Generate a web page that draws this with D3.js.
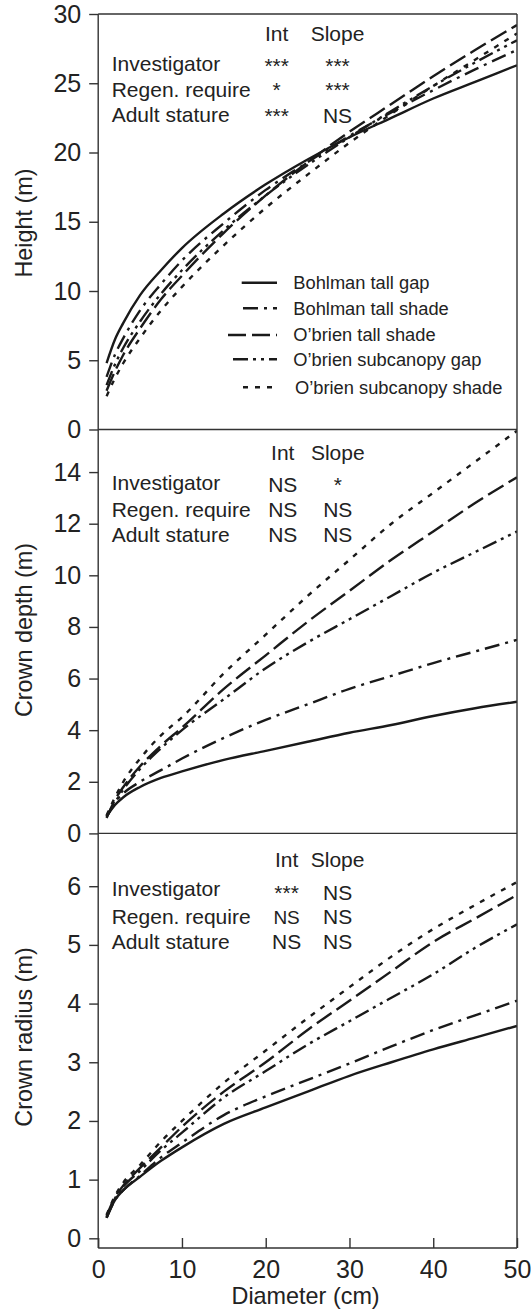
<!DOCTYPE html>
<html>
<head>
<meta charset="utf-8">
<script src="https://cdn.jsdelivr.net/npm/d3@7"></script>
<style>
  body { margin: 0; background: #fff; }
  svg { display: block; }
  text { font-family: "Liberation Sans", Arial, sans-serif; fill: #222; }
</style>
</head>
<body>
<div id="chart"></div>
<script>
// values
var diameters = [1, 2, 3, 5, 7.5, 10, 15, 20, 25, 30, 35, 40, 45, 50];
var groups = ["Bohlman tall gap", "Bohlman tall shade", "O\u2019brien tall shade",
              "O\u2019brien subcanopy gap", "O\u2019brien subcanopy shade"];

var heightSeries = [
  [4.8, 6.5, 7.7, 9.7, 11.5, 13.1, 15.6, 17.7, 19.5, 21.1, 22.5, 23.9, 25.1, 26.3],
  [3.8, 5.4, 6.6, 8.6, 10.5, 12.2, 14.9, 17.3, 19.3, 21.2, 22.9, 24.5, 26.0, 27.4],
  [2.8, 4.2, 5.4, 7.3, 9.4, 11.1, 14.2, 16.9, 19.3, 21.5, 23.5, 25.5, 27.4, 29.2],
  [3.2, 4.7, 5.9, 7.8, 9.8, 11.5, 14.4, 16.9, 19.1, 21.1, 23.0, 24.8, 26.5, 28.1],
  [2.4, 3.7, 4.8, 6.6, 8.6, 10.3, 13.3, 16.0, 18.4, 20.7, 22.8, 24.8, 26.7, 28.6]
];
var depthSeries = [
  [0.65, 1.1, 1.4, 1.8, 2.15, 2.4, 2.85, 3.2, 3.55, 3.9, 4.2, 4.55, 4.85, 5.1],
  [0.65, 1.2, 1.55, 2.0, 2.45, 2.9, 3.7, 4.4, 5.0, 5.6, 6.1, 6.6, 7.05, 7.5],
  [0.6, 1.3, 1.8, 2.6, 3.4, 4.1, 5.6, 6.9, 8.2, 9.4, 10.6, 11.7, 12.8, 13.8],
  [0.65, 1.2, 1.7, 2.5, 3.3, 4.0, 5.2, 6.4, 7.4, 8.3, 9.2, 10.1, 10.9, 11.7],
  [0.7, 1.4, 2.0, 2.9, 3.8, 4.5, 6.2, 7.7, 9.2, 10.6, 12.0, 13.2, 14.4, 15.6]
];
var radiusSeries = [
  [0.35, 0.65, 0.82, 1.05, 1.32, 1.55, 1.95, 2.23, 2.5, 2.77, 3.0, 3.22, 3.42, 3.62],
  [0.35, 0.65, 0.82, 1.07, 1.38, 1.63, 2.1, 2.42, 2.7, 2.98, 3.27, 3.55, 3.8, 4.05],
  [0.38, 0.7, 0.9, 1.2, 1.55, 1.9, 2.5, 3.0, 3.55, 4.05, 4.55, 5.05, 5.45, 5.85],
  [0.35, 0.68, 0.88, 1.15, 1.5, 1.8, 2.4, 2.85, 3.3, 3.7, 4.1, 4.5, 4.95, 5.35],
  [0.4, 0.72, 0.95, 1.25, 1.65, 2.0, 2.65, 3.2, 3.75, 4.28, 4.8, 5.27, 5.68, 6.07]
];

var heightTicks = [0, 5, 10, 15, 20, 25, 30];
var depthTicks = [0, 2, 4, 6, 8, 10, 12, 14];
var radiusTicks = [0, 1, 2, 3, 4, 5, 6];
var diameterTicks = [0, 10, 20, 30, 40, 50];

var statRows = ["Investigator", "Regen. require", "Adult stature"];
var statCols = ["Int", "Slope"];
var heightStats = [["***", "***"], ["*", "***"], ["***", "NS"]];
var depthStats = [["NS", "*"], ["NS", "NS"], ["NS", "NS"]];
var radiusStats = [["***", "NS"], ["NS", "NS"], ["NS", "NS"]];

var width = 531, height = 1310;
var left = 98.2, right = 517;
var dashes = ["none", "15,6,3,6", "18,6", "15,5,3,5,3,5", "5,7"];

var svg = d3.select("#chart").append("svg")
    .attr("width", width)
    .attr("height", height);

var x = d3.scaleLinear().domain([0, 50]).range([left, right]);

var panels = [
  {series: heightSeries, ticks: heightTicks, stats: heightStats, title: "Height (m)",
   domain: [0, 30], range: [429.5, 14], titleY: 223,
   colX: [276.7, 337.5], headY: 40.5, labelY: [71, 97, 122], valY: [73, 97, 123]},
  {series: depthSeries, ticks: depthTicks, stats: depthStats, title: "Crown depth (m)",
   domain: [0, 15.65], range: [833.4, 429.5], titleY: 630,
   colX: [282.8, 337.8], headY: 460, labelY: [490, 517, 542], valY: [492, 517, 542]},
  {series: radiusSeries, ticks: radiusTicks, stats: radiusStats, title: "Crown radius (m)",
   domain: [-0.165, 6.9], range: [1248, 833.4], titleY: 1037,
   colX: [286.6, 337.6], headY: 866.8, labelY: [896, 923.5, 948.5], valY: [900, 923.5, 948.5]}
];

panels.forEach(function(p, pi) {
  var y = d3.scaleLinear().domain(p.domain).range(p.range);
  var g = svg.append("g");

  g.append("clipPath").attr("id", "clip" + pi)
    .append("rect")
    .attr("x", left).attr("y", p.range[1])
    .attr("width", right - left).attr("height", p.range[0] - p.range[1]);

  // y axis
  var ax = g.append("g")
      .attr("transform", "translate(" + left + ",0)")
      .call(d3.axisLeft(y).tickValues(p.ticks).tickFormat(d3.format("d"))
            .tickSize(9).tickPadding(8).tickSizeOuter(0));
  ax.select(".domain").remove();
  ax.selectAll(".tick line").attr("stroke", "#333").attr("stroke-width", 1.4);
  ax.selectAll(".tick text")
    .style("font-size", "25px")
    .attr("fill", "#222");

  g.append("text")
    .attr("transform", "translate(32," + p.titleY + ") rotate(-90)")
    .attr("text-anchor", "middle")
    .style("font-size", "23.4px")
    .text(p.title);

  // curves
  var line = d3.line()
    .x(function(d, i) { return x(diameters[i]); })
    .y(function(d) { return y(d); })
    .curve(d3.curveMonotoneX);

  g.append("g").attr("clip-path", "url(#clip" + pi + ")")
    .selectAll(".curve")
    .data(p.series)
    .enter().append("path")
    .attr("class", "curve")
    .attr("d", line)
    .attr("fill", "none")
    .attr("stroke", "#1a1a1a")
    .attr("stroke-width", 2.4)
    .attr("stroke-dasharray", function(d, i) { return dashes[i]; });

  // significance table
  g.selectAll(".colhead")
    .data(statCols)
    .enter().append("text")
    .attr("x", function(d, i) { return p.colX[i]; })
    .attr("y", p.headY)
    .attr("text-anchor", "middle")
    .style("font-size", "21px")
    .text(function(d) { return d; });

  g.selectAll(".rowlab")
    .data(statRows)
    .enter().append("text")
    .attr("x", 111.7)
    .attr("y", function(d, i) { return p.labelY[i]; })
    .style("font-size", "21px")
    .text(function(d) { return d; });

  p.stats.forEach(function(row, ri) {
    row.forEach(function(v, ci) {
      g.append("text")
        .attr("x", p.colX[ci])
        .attr("y", p.valY[ri])
        .attr("text-anchor", "middle")
        .style("font-size", (pi === 2 && ci === 0 && ri === 1) ? "19px" : "21px")
        .text(v);
    });
  });
});

// frame
var frame = svg.append("g").attr("stroke", "#333").attr("stroke-width", 1.4);
[14, 429.5, 833.4, 1248].forEach(function(yy) {
  frame.append("line").attr("x1", left).attr("x2", right).attr("y1", yy).attr("y2", yy);
});
frame.append("line").attr("x1", left).attr("x2", left).attr("y1", 14).attr("y2", 1248);
frame.append("line").attr("x1", right).attr("x2", right).attr("y1", 14).attr("y2", 1248);

// x axis (ticks inside)
var xa = svg.append("g")
    .attr("transform", "translate(0,1248)")
    .call(d3.axisBottom(x).tickValues(diameterTicks).tickFormat(d3.format("d"))
          .tickSizeInner(-10).tickSizeOuter(0).tickPadding(12));
xa.select(".domain").remove();
xa.selectAll(".tick line").attr("stroke", "#333").attr("stroke-width", 1.4);
xa.selectAll(".tick text").style("font-size", "25px").attr("fill", "#222");

svg.append("text")
  .attr("x", 305.6)
  .attr("y", 1304)
  .attr("text-anchor", "middle")
  .style("font-size", "23.4px")
  .text("Diameter (cm)");

// legend in top panel
var legendY = [282.7, 308.3, 335, 359.3, 387.3];
var legendX0 = [241.7, 243, 228, 233, 243];
var legend = svg.append("g");
groups.forEach(function(name, i) {
  legend.append("line")
    .attr("x1", legendX0[i]).attr("x2", 277)
    .attr("y1", legendY[i]).attr("y2", legendY[i])
    .attr("stroke", "#1a1a1a")
    .attr("stroke-width", 2.4)
    .attr("stroke-dasharray", dashes[i]);
  legend.append("text")
    .attr("x", i === 4 ? 295 : 293.3)
    .attr("y", legendY[i])
    .attr("dy", "0.35em")
    .style("font-size", "18.3px")
    .text(name);
});
</script>
</body>
</html>
